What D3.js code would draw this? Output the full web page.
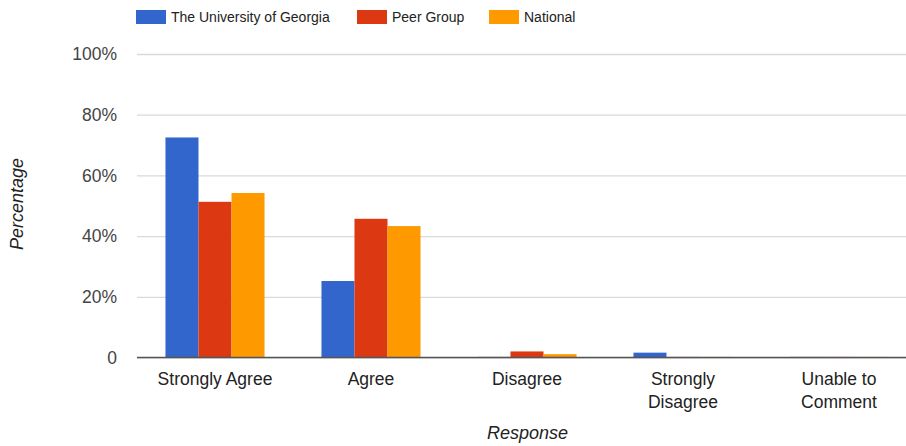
<!DOCTYPE html>
<html><head><meta charset="utf-8">
<script src="https://cdn.jsdelivr.net/npm/d3@7"></script>
<style>body{margin:0;background:#fff;font-family:"Liberation Sans",Arial,sans-serif;}</style>
</head><body><svg id="c" width="906" height="446"></svg>
<script>
const categories = [["Strongly Agree"], ["Agree"], ["Disagree"], ["Strongly", "Disagree"], ["Unable to", "Comment"]];
const seriesNames = ["The University of Georgia", "Peer Group", "National"];
const colors = ["#3366cc", "#dc3912", "#ff9900"];
const uga = [72.5, 25.2, 0.2, 1.6, 0.2];
const peer = [51.3, 45.7, 2.0, 0.2, 0.2];
const national = [54.2, 43.3, 1.1, 0.2, 0.2];
const yTicks = [0, 20, 40, 60, 80, 100];
const yTickLabels = ["0", "20%", "40%", "60%", "80%", "100%"];

(function(){
const svg = d3.select("#c");
const pL = 137, pR = 917, gridR = 906, pT = 54, pB = 357.5;
const x = d3.scaleBand().domain(d3.range(categories.length)).range([pL, pR]).paddingInner(0.365).paddingOuter(0.1825);
const xs = d3.scaleBand().domain(d3.range(3)).range([0, x.bandwidth()]);
const y = d3.scaleLinear().domain([0, 100]).range([pB, pT]);
const series = [uga, peer, national];

const yAxis = d3.axisLeft(y).tickValues(yTicks).tickFormat((d,i)=>yTickLabels[i]).tickSize(-(gridR-pL)).tickPadding(20);
const ga = svg.append("g").attr("transform", `translate(${pL},0)`).call(yAxis);
ga.select(".domain").remove();
ga.selectAll(".tick line").attr("stroke", "#d9d9d9").attr("stroke-width", 1.3);
ga.selectAll(".tick text").attr("fill", "#444").attr("font-size", 17.5).attr("font-family", "Liberation Sans, Arial, sans-serif");

series.forEach((vals, si) => {
  svg.append("g").selectAll("rect").data(vals).join("rect")
    .attr("x", (d,i)=>x(i)+xs(si))
    .attr("width", xs.bandwidth())
    .attr("y", d=>y(d))
    .attr("height", d=>pB - y(d))
    .attr("fill", colors[si]);
});

svg.append("line").attr("x1", pL).attr("x2", gridR).attr("y1", pB).attr("y2", pB)
  .attr("stroke", "#555").attr("stroke-width", 1.5);

const xl = svg.append("g").attr("font-size", 17.5).attr("fill", "#222");
categories.forEach((lines, i) => {
  const cx = x(i) + x.bandwidth()/2;
  const t = xl.append("text").attr("text-anchor", "middle").attr("x", cx).attr("y", 384.5);
  lines.forEach((ln, k) => t.append("tspan").attr("x", cx).attr("dy", k===0?0:23).text(ln));
});

svg.append("text").attr("x", 527.5).attr("y", 439).attr("text-anchor", "middle").attr("font-size", 18)
  .attr("font-style", "italic").attr("fill", "#222").text("Response");
svg.append("text").attr("transform", "translate(23,204) rotate(-90)").attr("text-anchor", "middle").attr("font-size", 18)
  .attr("font-style", "italic").attr("fill", "#222").text("Percentage");

const legX = [136, 357, 489];
seriesNames.forEach((n, i) => {
  svg.append("rect").attr("x", legX[i]).attr("y", 10).attr("width", 30).attr("height", 14).attr("fill", colors[i]);
  svg.append("text").attr("x", legX[i] + 35).attr("y", 22).attr("font-size", 14).attr("fill", "#222").text(n);
});
})();
</script></body></html>
